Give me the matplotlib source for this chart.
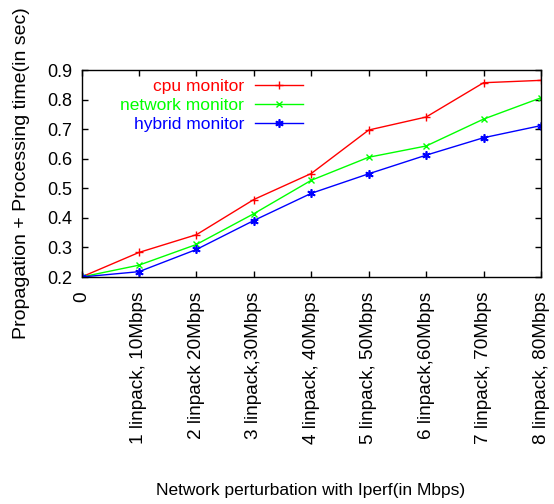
import matplotlib
matplotlib.use("Agg")
import matplotlib.pyplot as plt

plt.rcParams['font.family'] = ['Liberation Sans', 'DejaVu Sans']

# x categories
tick_labels = ["0", "1 linpack, 10Mbps", "2 linpack 20Mbps", "3 linpack,30Mbps",
               "4 linpack, 40Mbps", "5 linpack, 50Mbps", "6 linpack,60Mbps",
               "7 linpack, 70Mbps", "8 linpack, 80Mbps"]
x = list(range(len(tick_labels)))

# response times (sec)
cpu = [0.200, 0.283, 0.343, 0.462, 0.550, 0.697, 0.741, 0.857, 0.865]
network = [0.200, 0.240, 0.310, 0.414, 0.527, 0.605, 0.643, 0.734, 0.806]
hybrid = [0.200, 0.218, 0.293, 0.391, 0.483, 0.549, 0.612, 0.671, 0.712]

fig = plt.figure(figsize=(5.54, 5.04), dpi=100)
ax = fig.add_axes([81.5/554, 1 - 277/504, 459.5/554, 207/504])

ax.plot(x, cpu, color='#ff0000', lw=1, marker='+', ms=6, mew=1, label='cpu monitor')
ax.plot(x, network, color='#00ff00', lw=1, marker='x', ms=5, mew=1, label='network monitor')
ax.plot(x, hybrid, color='#0000ff', lw=1, marker=(6, 2, 0), ms=6, mew=1.2, label='hybrid monitor')

ax.set_xlim(0, 8)
ax.set_ylim(0.2, 0.9)
ax.set_yticks([0.2, 0.3, 0.4, 0.5, 0.6, 0.7, 0.8, 0.9])
ax.set_yticklabels(["0.2", "0.3", "0.4", "0.5", "0.6", "0.7", "0.8", "0.9"], fontsize=13)
ax.set_xticks(x)
ax.set_xticklabels(tick_labels, rotation=90, fontsize=13.7, va='top', ha='center')
ax.tick_params(direction='in', length=4, width=1, top=True, right=True)
ax.tick_params(axis='x', pad=10.5)
ax.tick_params(axis='y', pad=6.5)
for s in ax.spines.values():
    s.set_linewidth(1)

leg = ax.legend(loc='upper right', bbox_to_anchor=(0.49, 0.975), frameon=False,
                markerfirst=False, labelcolor='linecolor', fontsize=12.5,
                handlelength=2.8, handletextpad=0.6, labelspacing=0.24,
                borderpad=0.2, borderaxespad=0)

fig.text(22/554, 1 - 173/504, "Propagation + Processing time(in sec)", rotation=90,
         fontsize=14, ha='center', va='center')
fig.text(311/554, 1 - 490/504, "Network perturbation with Iperf(in Mbps)",
         fontsize=12.5, ha='center', va='center')

fig.savefig("out.png", dpi=100)
